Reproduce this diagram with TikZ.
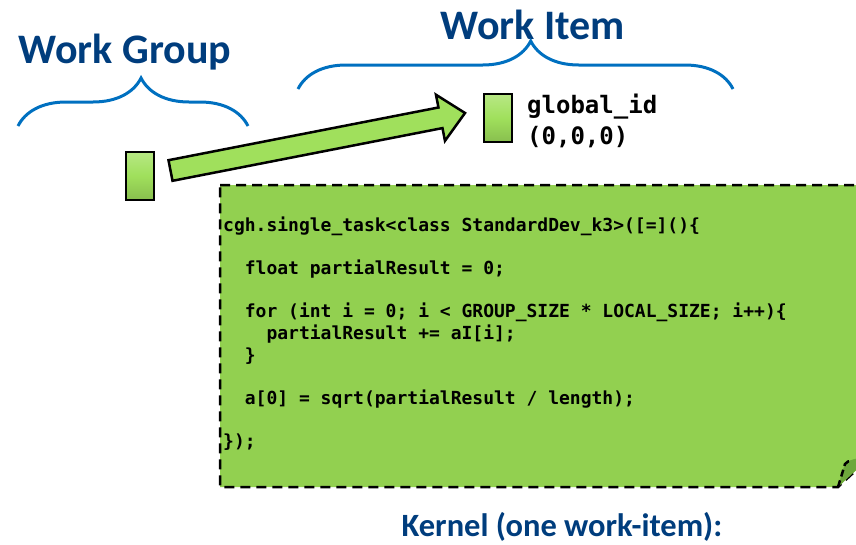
\documentclass[tikz,border=0pt]{standalone}
\usepackage{fontspec}
\setmainfont{Carlito}
\setmonofont{DejaVu Sans Mono}
\usepackage{xcolor}
\usepackage{tikz}
\usetikzlibrary{positioning,calc,decorations.pathreplacing}
\definecolor{titleblue}{RGB}{0,61,125}
\definecolor{braceblue}{RGB}{0,112,192}
\definecolor{kernelgreen}{RGB}{146,208,80}
\definecolor{itemgreen}{RGB}{160,224,92}
\definecolor{foldgreen}{RGB}{110,168,60}
\tikzset{
    title/.style={text=titleblue, font=\bfseries\fontsize{42}{50}\selectfont, inner sep=0pt},
    bracket/.style={draw=braceblue, line width=3pt, decorate,
        decoration={brace, amplitude=48pt, aspect=0.535}},
    itembox/.style={draw=black, line width=2pt, top color=itemgreen!75!white,
        bottom color=itemgreen!85!black, middle color=itemgreen,
        minimum width=28pt, minimum height=48pt, inner sep=0pt},
    bigarrow/.style={draw=black, line width=2.5pt, fill=itemgreen},
    codebox/.style={draw=black, line width=2.5pt, dash pattern=on 10pt off 6pt, fill=kernelgreen},
    codetext/.style={font=\ttfamily\bfseries\fontsize{18}{22}\selectfont, align=left, inner sep=0pt},
    idtext/.style={font=\ttfamily\bfseries\fontsize{24}{31}\selectfont, align=left, inner sep=0pt}
}
\newcommand{\codeindent}[1]{\hspace*{#1\fontcharwd\font`x}}

\begin{document}
\begin{tikzpicture}[x=1pt, y=-1pt]
    \useasboundingbox (0,0) rectangle (856,544);

    \node[title] (groupTitle) at (125,52) {Work Group};
    \node[title] (itemTitle) at (533,25) {Work Item};
    \coordinate (groupLeft) at (18,126);
    \coordinate (groupRight) at (248,126);
    \coordinate (itemLeft) at (298,89);
    \coordinate (itemRight) at (733,89);
    \draw[bracket] (groupLeft) -- (groupRight);
    \draw[bracket] (itemLeft) -- (itemRight);

    \node[itembox] (groupBox) at (140,175.5) {};
    \node[itembox] (itemBox) at (498,118) {};
    \node[idtext, anchor=north west] (globalId) at (527,94) {global\_id\\(0,0,0)};

    \coordinate (arrowTail) at (170.5,170.5);
    \coordinate (arrowTip) at (465,113);
    \coordinate (arrowNeck) at ($(arrowTip)!25pt!(arrowTail)$);
    \draw[bigarrow] ($(arrowTail)!10.5pt!90:(arrowTip)$)
        -- ($(arrowNeck)!10.5pt!90:(arrowTip)$)
        -- ($(arrowNeck)!23.5pt!90:(arrowTip)$)
        -- (arrowTip)
        -- ($(arrowNeck)!23.5pt!-90:(arrowTip)$)
        -- ($(arrowNeck)!10.5pt!-90:(arrowTip)$)
        -- ($(arrowTail)!10.5pt!-90:(arrowTip)$) -- cycle;

    \draw[codebox] (220,185) -- (880,185) -- (880,448) -- (838,487) -- (220,487) -- cycle;
    \fill[foldgreen] (838,487) -- (845,463) to[bend left=20] (868,459) -- cycle;
    \draw[line width=2.5pt, dash pattern=on 7pt off 4pt] (838,487) -- (845,464) to[bend left=30] (852,461);
    \node[codetext, anchor=north west] (kernelCode) at (223,217) {%
        cgh.single\_task<class StandardDev\_k3>([=]()\{\\[21pt]
        \codeindent{2}float partialResult = 0;\\[21pt]
        \codeindent{2}for (int i = 0; i < GROUP\_SIZE * LOCAL\_SIZE; i++)\{\\
        \codeindent{4}partialResult += aI[i];\\
        \codeindent{2}\}\\[21pt]
        \codeindent{2}a[0] = sqrt(partialResult / length);\\[21pt]
        \});};

    \node[title, font=\bfseries\fontsize{32.5}{38}\selectfont] (kernelLabel) at (562,527) {Kernel (one work-item):};
\end{tikzpicture}
\end{document}
